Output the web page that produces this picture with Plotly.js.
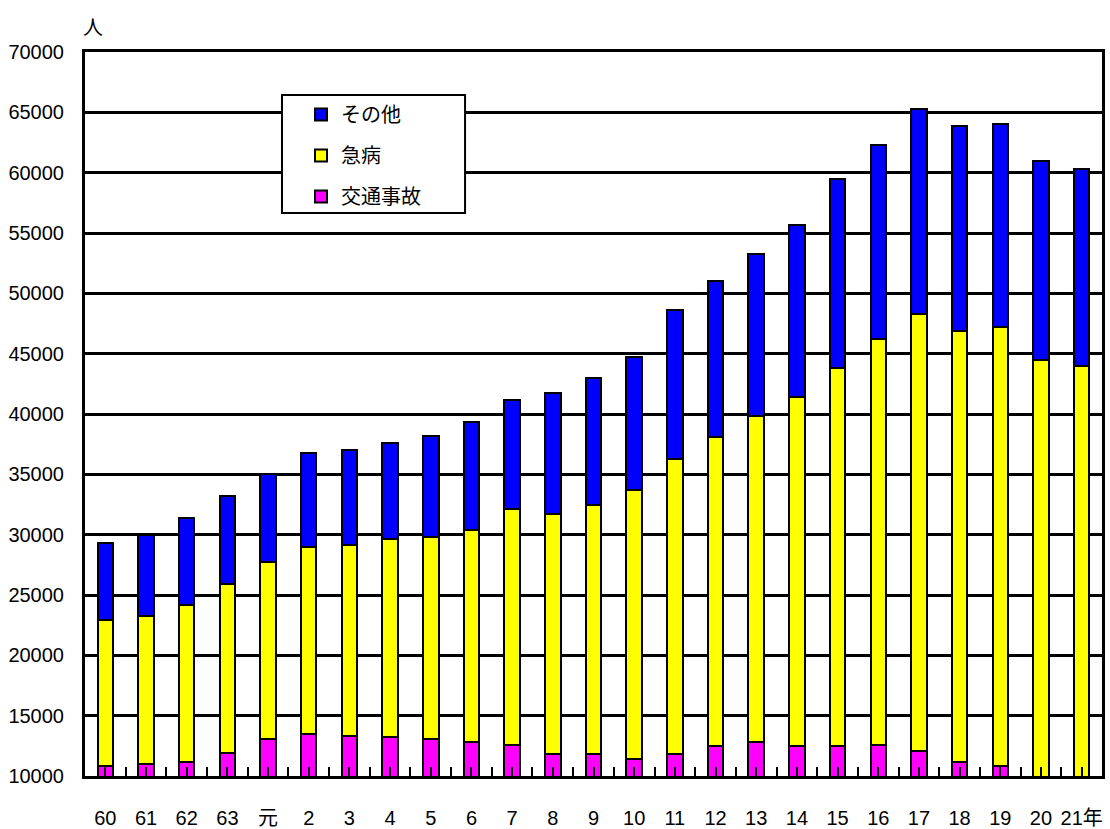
<!DOCTYPE html>
<html>
<head>
<meta charset="utf-8">
<script src="https://cdn.plot.ly/plotly-3.0.1.min.js"></script>
<style>html,body{margin:0;padding:0;background:#fff;}#chart{width:1110px;height:829px;}</style>
</head>
<body>
<div id="chart"></div>
<script>
const years = ["60","61","62","63","元","2","3","4","5","6","7","8","9","10","11","12","13","14","15","16","17","18","19","20","21"];
const yearLabels = ["60","61","62","63","元","2","3","4","5","6","7","8","9","10","11","12","13","14","15","16","17","18","19","20","21年"];
const traffic = [10800,11000,11200,11900,13100,13500,13300,13200,13100,12800,12600,11800,11800,11400,11800,12500,12800,12500,12500,12600,12100,11200,10800,9750,9700];
const illness = [12100,12300,13000,14000,14600,15500,15850,16450,16700,17600,19500,19900,20700,22300,24500,25600,27000,28900,31300,33600,36200,35700,36400,34750,34300];
const other = [6400,6700,7200,7300,7300,7800,7850,7950,8400,8900,9100,10000,10500,11000,12300,12900,13500,14300,15700,16100,17000,17000,16800,16500,16300];
const yTicks = [10000,15000,20000,25000,30000,35000,40000,45000,50000,55000,60000,65000,70000];

const numFont = '"Liberation Sans", Arial, "Noto Sans CJK JP", sans-serif';
const jpFont = '"Noto Sans CJK JP", sans-serif';
const edge = {color: '#000000', width: 2};

const traces = [
  {type: 'bar', name: '交通事故', x: years, y: traffic, legendgroup: 'a', legendrank: 3,
   marker: {color: '#FF00FF', line: edge}, hoverinfo: 'x+y+name'},
  {type: 'bar', name: '急病', x: years, y: illness, legendgroup: 'b', legendrank: 2,
   marker: {color: '#FFFF00', line: edge}, hoverinfo: 'x+y+name'},
  {type: 'bar', name: 'その他', x: years, y: other, legendgroup: 'c', legendrank: 1,
   marker: {color: '#0000FF', line: edge}, hoverinfo: 'x+y+name'},
  {type: 'scatter', x: [null], y: [null], xaxis: 'x2', showlegend: false, hoverinfo: 'skip'}
];

const layout = {
  width: 1110, height: 829,
  margin: {l: 85, r: 8, t: 52, b: 53},
  paper_bgcolor: '#ffffff', plot_bgcolor: '#ffffff',
  barmode: 'stack', bargap: 0.62,
  font: {family: numFont, size: 20, color: '#000000'},
  xaxis: {
    type: 'category', range: [-0.5, 24.5], showgrid: false,
    tickmode: 'array', tickvals: years, ticktext: yearLabels,
    showline: true, linecolor: '#000000', linewidth: 3, mirror: true,
    ticks: '', ticklabelstandoff: 22,
    tickfont: {family: numFont, size: 20, color: '#000000'}
  },
  xaxis2: {
    overlaying: 'x', anchor: 'y', side: 'bottom', type: 'linear',
    range: [-0.5, 24.5], tick0: -0.5, dtick: 0.5,
    ticks: 'inside', ticklen: 9, tickwidth: 2, tickcolor: '#000000',
    showticklabels: false, showgrid: false, showline: false, zeroline: false
  },
  yaxis: {
    range: [10000, 70000], tickvals: yTicks, ticktext: yTicks.map(String),
    showgrid: true, gridcolor: '#000000', gridwidth: 3,
    showline: true, linecolor: '#000000', linewidth: 3, mirror: true,
    zeroline: false, ticks: '', ticklabelstandoff: 14,
    tickfont: {family: numFont, size: 20, color: '#000000'}
  },
  showlegend: true,
  legend: {
    x: 0.2124, y: 0.9406, xanchor: 'left', yanchor: 'top',
    traceorder: 'grouped', tracegroupgap: 12,
    bgcolor: 'rgba(0,0,0,0)', borderwidth: 0,
    font: {family: jpFont, size: 20, color: '#000000'}
  },
  shapes: [
    {type: 'rect', xref: 'paper', yref: 'paper', x0: 0.1937, x1: 0.3737, y0: 0.7776, y1: 0.9406,
     fillcolor: '#ffffff', line: {color: '#000000', width: 2}, layer: 'above'}
  ],
  annotations: [
    {text: '人', xref: 'paper', yref: 'paper', x: -0.004, y: 1.0, xanchor: 'left', yanchor: 'bottom',
     yshift: 9, showarrow: false, font: {family: jpFont, size: 20, color: '#000000'}}
  ]
};

Plotly.newPlot('chart', traces, layout, {displayModeBar: false, responsive: false});
</script>
</body>
</html>
